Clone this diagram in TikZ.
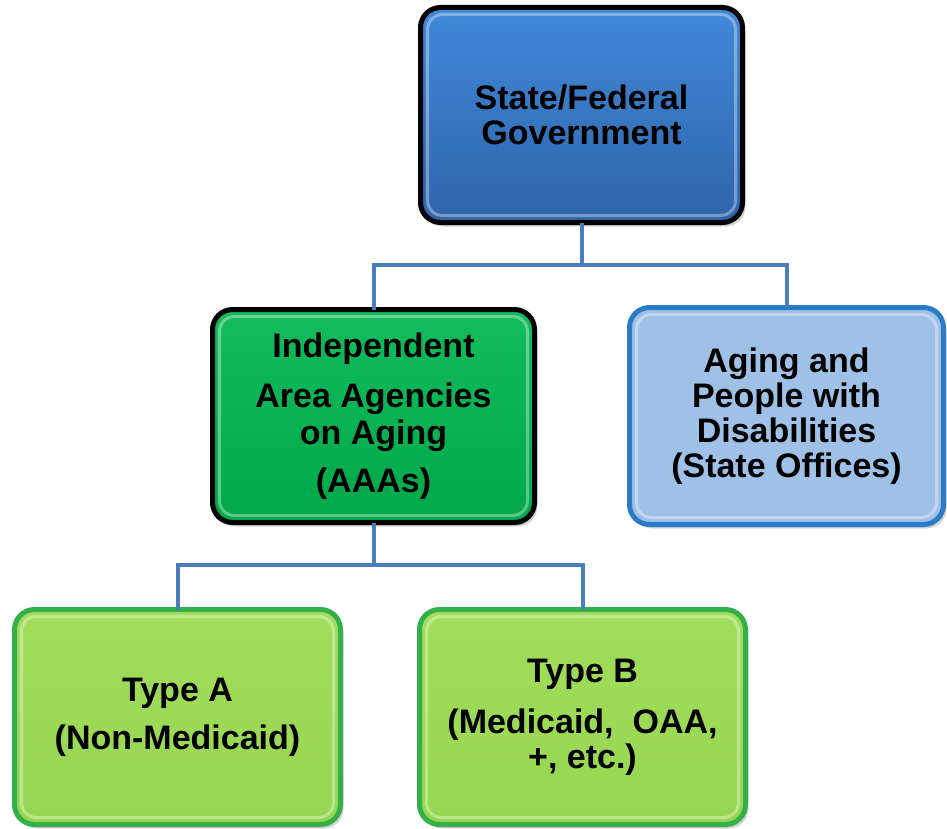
\documentclass[tikz,border=0pt]{standalone}
\usepackage{fontspec}
\setmainfont{Liberation Sans}
\usetikzlibrary{shadows,calc}
\definecolor{govtop}{HTML}{4189D8}
\definecolor{govbot}{HTML}{2F64AA}
\definecolor{aaatop}{HTML}{12BC5C}
\definecolor{aaabot}{HTML}{00A84A}
\definecolor{agingfill}{HTML}{A0C1E7}
\definecolor{agingline}{HTML}{2C7BC8}
\definecolor{typetop}{HTML}{A2DD5C}
\definecolor{typebot}{HTML}{96D652}
\definecolor{typeline}{HTML}{34B04A}
\definecolor{linkc}{HTML}{4A7EBB}
\begin{document}
\begin{tikzpicture}[x=1pt,y=-1pt,
  box/.style={rectangle, rounded corners=20pt, line width=5pt, outer sep=0pt, inner sep=0pt,
    align=center, text=black, font=\fontsize{34}{35}\selectfont\bfseries,
    drop shadow={shadow xshift=3pt, shadow yshift=-4pt, opacity=.35}},
  govbox/.style={box, draw=black, top color=govtop, bottom color=govbot},
  aaabox/.style={box, draw=black, top color=aaatop, bottom color=aaabot},
  agingbox/.style={box, draw=agingline, fill=agingfill},
  typebox/.style={box, draw=typeline, top color=typetop, bottom color=typebot},
  link/.style={draw=linkc, line width=4pt},
  bevel/.style={draw=white, opacity=.35, line width=3pt, rounded corners=15pt}]
\useasboundingbox (0,0) rectangle (947,829);

\node[govbox, minimum width=322pt, minimum height=215pt] (gov) at (581.5,115) {State/Federal\\Government};
\node[aaabox, minimum width=322pt, minimum height=213pt] (aaa) at (373.5,416) {Independent\\[15pt]Area Agencies\\[2pt]on Aging\\[13pt](AAAs)};
\node[agingbox, minimum width=314pt, minimum height=217pt] (aging) at (786.5,416) {Aging and\\People with\\Disabilities\\(State Offices)};
\node[typebox, minimum width=326pt, minimum height=215pt] (ta) at (177.5,717) {Type A\\[13pt](Non-Medicaid)};
\node[typebox, minimum width=326pt, minimum height=215pt] (tb) at (582.5,717) {Type B\\[16pt](Medicaid,\ \ OAA,\\+, etc.)};

\foreach \n in {gov,aaa,aging,ta,tb}
  \draw[bevel] ([shift={(7,7)}]\n.north west) rectangle ([shift={(-7,-7)}]\n.south east);

\coordinate (j1) at ($(gov.south)+(0,42)$);
\draw[link] (gov.south) -- (j1);
\draw[link] (j1) -| (aaa.north);
\draw[link] (j1) -| (aging.north);

\coordinate (j2) at ($(aaa.south)+(0,42)$);
\draw[link] (aaa.south) -- (j2);
\draw[link] (j2) -| (ta.north);
\draw[link] (j2) -| (tb.north);
\end{tikzpicture}
\end{document}
